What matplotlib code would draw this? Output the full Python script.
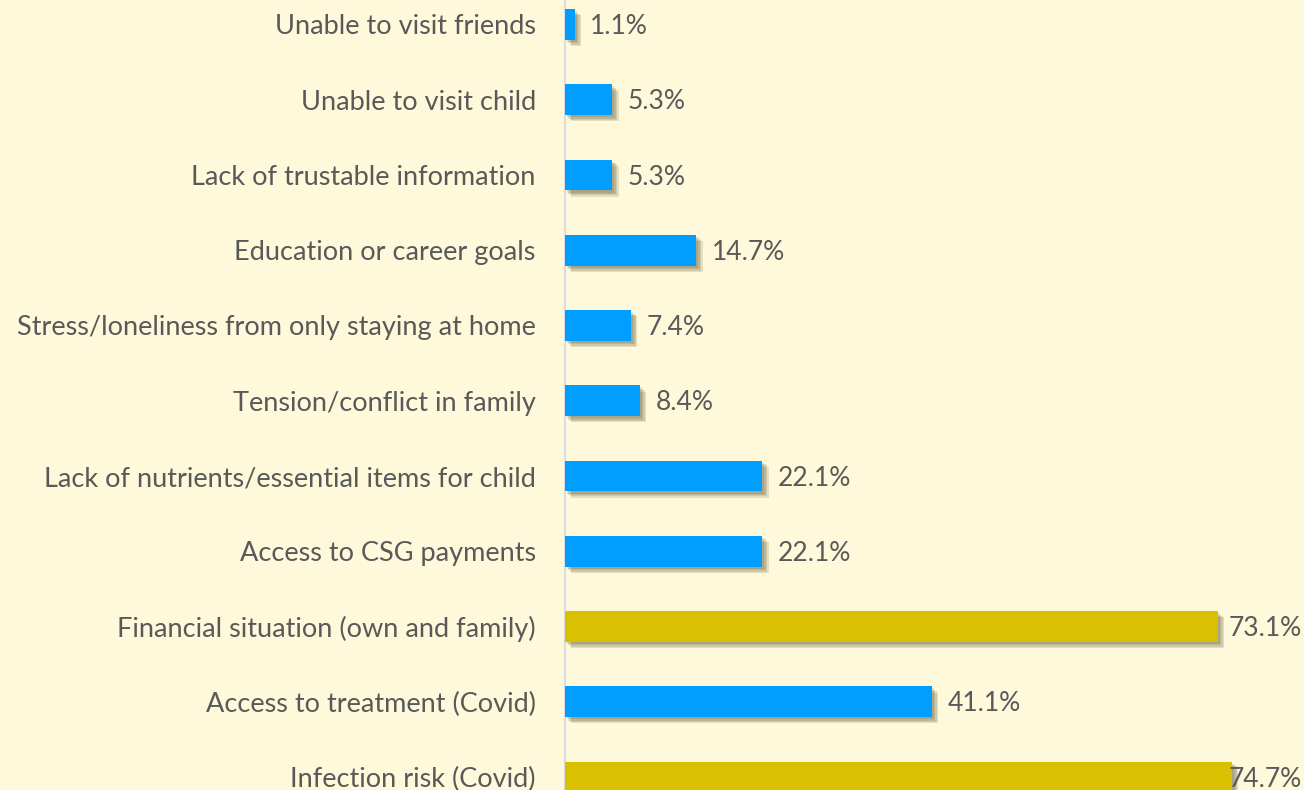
import matplotlib
matplotlib.use("Agg")
import matplotlib.pyplot as plt
import matplotlib.patheffects as pe

categories = [
    "Infection risk (Covid)",
    "Access to treatment (Covid)",
    "Financial situation (own and family)",
    "Access to CSG payments",
    "Lack of nutrients/essential items for child",
    "Tension/conflict in family",
    "Stress/loneliness from only staying at home",
    "Education or career goals",
    "Lack of trustable information",
    "Unable to visit child",
    "Unable to visit friends",
]
values = [74.7, 41.1, 73.1, 22.1, 22.1, 8.4, 7.4, 14.7, 5.3, 5.3, 1.1]
highlight = [True, False, True, False, False, False, False, False, False, False, False]

bg = "#FEF9DA"
blue = "#009FFF"
gold = "#D9C000"
txt = "#595959"

plt.rcParams['font.family'] = ['Lato', 'DejaVu Sans']

fig = plt.figure(figsize=(13.04, 7.90), dpi=100, facecolor=bg)
ax = fig.add_axes([565 / 1304, 0, 1 - 565 / 1304, 1])
ax.set_facecolor(bg)

ypos = list(range(len(categories)))
colors = [gold if h else blue for h in highlight]
bars = ax.barh(ypos, values, height=0.41, color=colors, zorder=3)
# soft drop shadow, a few layers to fake a blur
shadow = [pe.SimplePatchShadow(offset=(o, -o), shadow_rgbFace="#3c3414", alpha=0.13)
          for o in (1.5, 2.5, 3.5, 4.5)] + [pe.Normal()]
for b in bars:
    b.set_path_effects(shadow)

xmax = (1304 - 565) / 8.93
ax.set_xlim(0, xmax)
ax.set_ylim(-13 / 75.25, 10 + 24.5 / 75.25)

for y, v in zip(ypos, values):
    lab = f"{v:.1f}%"
    if v > 65:
        ax.annotate(lab, (1.0, y), xycoords=ax.get_yaxis_transform(),
                    xytext=(-1.5, -1.5), textcoords="offset points", ha="right",
                    va="center", fontsize=19, color=txt, zorder=4, annotation_clip=False)
    else:
        ax.annotate(lab, (v, y), xytext=(11, -1.5), textcoords="offset points",
                    ha="left", va="center", fontsize=19, color=txt, zorder=4)

ax.set_yticks(ypos)
ax.set_yticklabels(categories, fontsize=19.5, color=txt)
ax.tick_params(axis="y", length=0, pad=21)
ax.set_xticks([])
for s in ["top", "right", "bottom"]:
    ax.spines[s].set_visible(False)
ax.spines["left"].set_color("#DCDCE2")
ax.spines["left"].set_linewidth(1.5)

fig.savefig("out.png", dpi=100, facecolor=bg)
